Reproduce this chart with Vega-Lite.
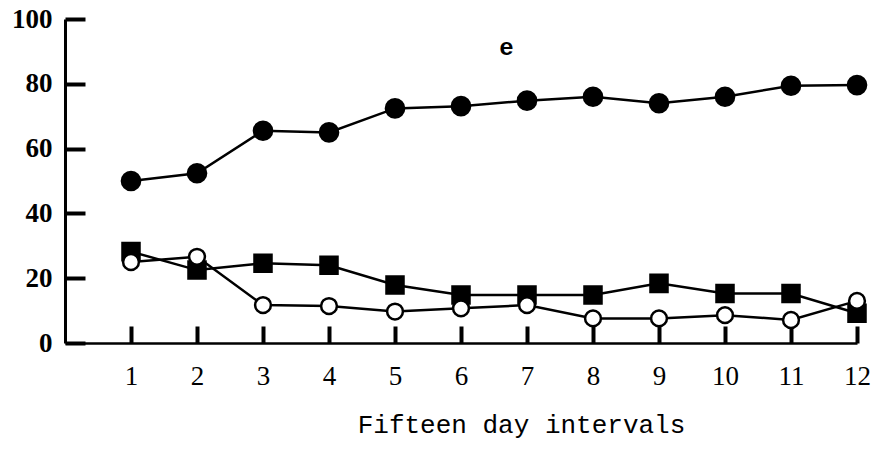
{
  "$schema": "https://vega.github.io/schema/vega-lite/v6.json",
  "width": 792,
  "height": 324,
  "autosize": {"type": "none"},
  "padding": {"left": 65, "top": 19, "right": 34, "bottom": 108},
  "background": "white",
  "config": {"view": {"stroke": null}},
  "datasets": {
    "series": [
      {"interval": 1, "value": 50, "group": "A"},
      {"interval": 2, "value": 52.4, "group": "A"},
      {"interval": 3, "value": 65.5, "group": "A"},
      {"interval": 4, "value": 65, "group": "A"},
      {"interval": 5, "value": 72.4, "group": "A"},
      {"interval": 6, "value": 73.1, "group": "A"},
      {"interval": 7, "value": 74.8, "group": "A"},
      {"interval": 8, "value": 76, "group": "A"},
      {"interval": 9, "value": 74, "group": "A"},
      {"interval": 10, "value": 76, "group": "A"},
      {"interval": 11, "value": 79.4, "group": "A"},
      {"interval": 12, "value": 79.6, "group": "A"},
      {"interval": 1, "value": 28.2, "group": "B"},
      {"interval": 2, "value": 22.5, "group": "B"},
      {"interval": 3, "value": 24.6, "group": "B"},
      {"interval": 4, "value": 24, "group": "B"},
      {"interval": 5, "value": 17.9, "group": "B"},
      {"interval": 6, "value": 14.8, "group": "B"},
      {"interval": 7, "value": 14.8, "group": "B"},
      {"interval": 8, "value": 14.8, "group": "B"},
      {"interval": 9, "value": 18.4, "group": "B"},
      {"interval": 10, "value": 15.3, "group": "B"},
      {"interval": 11, "value": 15.3, "group": "B"},
      {"interval": 12, "value": 9.2, "group": "B"},
      {"interval": 1, "value": 25, "group": "C"},
      {"interval": 2, "value": 26.6, "group": "C"},
      {"interval": 3, "value": 11.7, "group": "C"},
      {"interval": 4, "value": 11.4, "group": "C"},
      {"interval": 5, "value": 9.7, "group": "C"},
      {"interval": 6, "value": 10.7, "group": "C"},
      {"interval": 7, "value": 11.7, "group": "C"},
      {"interval": 8, "value": 7.6, "group": "C"},
      {"interval": 9, "value": 7.6, "group": "C"},
      {"interval": 10, "value": 8.6, "group": "C"},
      {"interval": 11, "value": 7.1, "group": "C"},
      {"interval": 12, "value": 13, "group": "C"}
    ],
    "labels": [{"interval": 6.69, "value": 91, "text": "e"}]
  },
  "layer": [
    {
      "data": {"name": "series"},
      "mark": {"type": "line", "color": "black", "strokeWidth": 2.5},
      "encoding": {
        "x": {
          "field": "interval", "type": "quantitative",
          "scale": {"domain": [0, 12], "nice": false, "zero": false},
          "axis": {
            "values": [1, 2, 3, 4, 5, 6, 7, 8, 9, 10, 11, 12],
            "format": "d",
            "grid": false,
            "title": "Fifteen day intervals",
            "titleFont": "Liberation Mono",
            "titleFontSize": 26,
            "titleFontWeight": "normal",
            "titleColor": "black",
            "titlePadding": 22,
            "titleX": 456,
            "domainColor": "black",
            "domainWidth": 2.5,
            "tickColor": "black",
            "tickWidth": 4,
            "tickSize": -17,
            "labelFont": "Liberation Serif",
            "labelFontSize": 27,
            "labelColor": "black",
            "labelPadding": 37,
            "labelFlush": false
          }
        },
        "y": {
          "field": "value", "type": "quantitative",
          "scale": {"domain": [0, 100], "nice": false},
          "axis": {
            "values": [0, 20, 40, 60, 80, 100],
            "grid": false,
            "title": null,
            "domainColor": "black",
            "domainWidth": 3,
            "tickColor": "black",
            "tickWidth": 4,
            "tickSize": -20,
            "labelFont": "Liberation Serif",
            "labelFontSize": 27,
            "labelFontWeight": "bold",
            "labelColor": "black",
            "labelPadding": 33,
            "labelFlush": false
          }
        },
        "detail": {"field": "group"}
      }
    },
    {
      "data": {"name": "series"},
      "mark": {"type": "point", "filled": false, "stroke": "black", "strokeWidth": 2.5, "opacity": 1},
      "encoding": {
        "x": {"field": "interval", "type": "quantitative"},
        "y": {"field": "value", "type": "quantitative"},
        "shape": {
          "field": "group", "type": "nominal",
          "scale": {"domain": ["A", "B", "C"], "range": ["circle", "square", "circle"]},
          "legend": null
        },
        "fill": {
          "field": "group", "type": "nominal",
          "scale": {"domain": ["A", "B", "C"], "range": ["black", "black", "white"]},
          "legend": null
        },
        "size": {
          "field": "group", "type": "nominal",
          "scale": {"domain": ["A", "B", "C"], "range": [330, 250, 250]},
          "legend": null
        }
      }
    },
    {
      "data": {"name": "labels"},
      "mark": {"type": "text", "font": "Liberation Mono", "fontSize": 24, "fontWeight": "bold", "color": "black"},
      "encoding": {
        "x": {"field": "interval", "type": "quantitative"},
        "y": {"field": "value", "type": "quantitative"},
        "text": {"field": "text"}
      }
    }
  ]
}
